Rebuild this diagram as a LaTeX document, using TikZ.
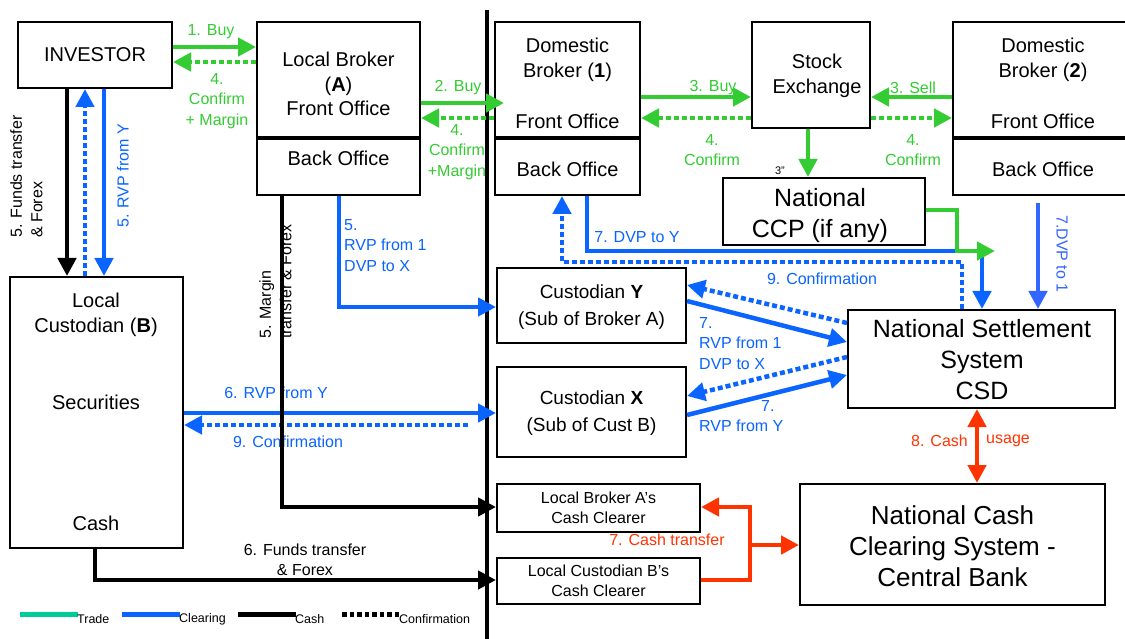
\documentclass[tikz,border=0pt]{standalone}
\usepackage{fontspec}
\setmainfont{Liberation Sans}
\usetikzlibrary{arrows.meta}
\definecolor{tgreen}{HTML}{33CC33}
\definecolor{cblue}{HTML}{0A64FF}
\definecolor{cblueb}{HTML}{3366FF}
\definecolor{cred}{HTML}{FF3300}
\definecolor{tteal}{HTML}{00CC99}
\newcommand\szbox{\fontsize{20}{24.5}\selectfont}
\newcommand\szbig{\fontsize{25}{31}\selectfont}
\newcommand\szmid{\fontsize{19}{27}\selectfont}
\newcommand\szlab{\fontsize{16}{20.5}\selectfont}
\newcommand\szcc{\fontsize{16}{20}\selectfont}
\newcommand\szleg{\fontsize{12.5}{14}\selectfont}
\begin{document}
\begin{tikzpicture}[x=1pt,y=-1pt,
  box/.style={draw, line width=2pt, inner sep=0pt},
  txt/.style={inner sep=0pt, align=center},
  lgreen/.style={inner sep=0pt, align=center, text=tgreen, font=\szlab},
  lblue/.style={inner sep=0pt, align=center, text=cblue, font=\szlab},
  lred/.style={inner sep=0pt, align=center, text=cred, font=\szlab},
  leg/.style={inner sep=0pt, anchor=west, font=\szleg},
  tip/.style={-{Triangle[length=18pt,width=18pt]}},
  both/.style={{Triangle[length=18pt,width=18pt]}-{Triangle[length=18pt,width=18pt]}},
  trade/.style={draw=tgreen, line width=4.5pt, miter limit=10},
  clear/.style={draw=cblue, line width=4.5pt},
  clearb/.style={draw=cblueb, line width=4.5pt},
  cash/.style={draw=black, line width=4.5pt},
  cashr/.style={draw=cred, line width=4.5pt},
  conf/.style={dash pattern=on 5pt off 3pt},
  divider/.style={line width=4pt}]
\useasboundingbox (0,0) rectangle (1125,639);
\fill[white] (0,0) rectangle (1125,639);
\clip (0,0) rectangle (1125,639);

% separator
\draw[line width=3.5pt] (487,10) -- (487,639);

% boxes
\node[box, minimum width=154pt, minimum height=66pt] (inv) at (95,55) {};
\node[box, minimum width=163pt, minimum height=115pt] (lbf) at (338.5,79.5) {};
\node[box, minimum width=163pt, minimum height=58pt] (lbb) at (338.5,166) {};
\node[box, minimum width=145pt, minimum height=115pt] (db1f) at (567.5,79.5) {};
\node[box, minimum width=145pt, minimum height=58pt] (db1b) at (567.5,166) {};
\node[box, minimum width=118pt, minimum height=106pt] (se) at (811,75) {};
\node[box, minimum width=182pt, minimum height=115pt] (db2f) at (1044,79.5) {};
\node[box, minimum width=182pt, minimum height=58pt] (db2b) at (1044,166) {};
\node[box, minimum width=202pt, minimum height=67pt] (ccp) at (824,211.5) {};
\node[box, minimum width=173pt, minimum height=271pt] (cb) at (96.5,412.5) {};
\node[box, minimum width=189pt, minimum height=75pt] (cy) at (591.5,305.5) {};
\node[box, minimum width=189pt, minimum height=90pt] (cx) at (591.5,412) {};
\node[box, minimum width=267pt, minimum height=98pt] (nss) at (981.5,359) {};
\node[box, minimum width=203pt, minimum height=48pt] (lbacc) at (598.5,508) {};
\node[box, minimum width=203pt, minimum height=46pt] (lcbcc) at (598.5,581) {};
\node[box, minimum width=305pt, minimum height=121pt] (nccs) at (952.5,544.5) {};

% office dividers
\draw[divider] (lbf.south west) -- (lbf.south east);
\draw[divider] (db1f.south west) -- (db1f.south east);
\draw[divider] (db2f.south west) -- (db2f.south east);

% box texts
\node[txt, font=\szbox] (tinv) at (95,55) {INVESTOR};
\node[txt, font=\szbox] (tlbf) at (338.5,84) {Local Broker\\(\textbf{A})\\Front Office};
\node[txt, font=\szbox] (tlbb) at (338.5,158) {Back Office};
\node[txt, font=\szbox] (tdb1a) at (567.5,60) {Domestic\\Broker (\textbf{1})};
\node[txt, font=\szbox] (tdb1b) at (567.5,121) {Front Office};
\node[txt, font=\szbox] (tdb1c) at (567.5,169) {Back Office};
\node[txt, font=\szbox] (tse) at (817,76) {Stock\\Exchange};
\node[txt, font=\szbox] (tdb2a) at (1043,60) {Domestic\\Broker (\textbf{2})};
\node[txt, font=\szbox] (tdb2b) at (1043,121) {Front Office};
\node[txt, font=\szbox] (tdb2c) at (1043,169) {Back Office};
\node[txt, font=\szbig, text depth=0pt] (tccp) at (820,213) {National\\CCP (if any)};
\node[txt, font=\fontsize{11}{12}\selectfont] (t3) at (780,171) {3''};
\node[txt, font=\szbox] (tcb1) at (96,315) {Local\\Custodian (\textbf{B})};
\node[txt, font=\szbox] (tcb2) at (96,402) {Securities};
\node[txt, font=\szbox] (tcb3) at (96,523) {Cash};
\node[txt, font=\szmid] (tcy) at (591.5,307) {Custodian \textbf{Y}\\(Sub of Broker A)};
\node[txt, font=\szmid] (tcx) at (591.5,413) {Custodian \textbf{X}\\(Sub of Cust B)};
\node[txt, font=\szbig] (tnss) at (982,360) {National Settlement\\System\\CSD};
\node[txt, font=\szcc] (tlbacc) at (598.5,508) {Local Broker A’s\\Cash Clearer};
\node[txt, font=\szcc] (tlcbcc) at (598.5,581) {Local Custodian B’s\\Cash Clearer};
\node[txt, font=\fontsize{26}{31}\selectfont] (tnccs) at (952.5,546) {National Cash\\Clearing System -\\Central Bank};

% labels
\node[lgreen] (l1) at (211,32) {1. Buy};
\node[lgreen] (l4a) at (217,101) {4.\\Confirm\\+ Margin};
\node[lgreen] (l2) at (458,88) {2. Buy};
\node[lgreen] (l4b) at (457,152) {4.\\Confirm\\+Margin};
\node[lgreen] (l3b) at (713,88) {3. Buy};
\node[lgreen] (l4c) at (712,150) {4.\\Confirm};
\node[lgreen] (l3s) at (913,88) {3. Sell};
\node[lgreen] (l4d) at (913,150) {4.\\Confirm};
\node[inner sep=0pt, align=left, font=\szlab, rotate=90, anchor=north west] (l5f) at (10,238) {5. Funds transfer\\\& Forex};
\node[lblue, rotate=90] (l5r) at (123,176) {5. RVP from Y};
\node[inner sep=0pt, align=left, font=\szlab, rotate=90, anchor=north west] (l5m) at (259,339) {5. Margin\\transfer \& Forex};
\node[lblue, align=left, anchor=north west] (l5x) at (344,219) {5.\\RVP from 1\\DVP to X};
\node[lblue] (l6r) at (276,393) {6. RVP from Y};
\node[lblue] (l9a) at (288,442) {9. Confirmation};
\node[inner sep=0pt, align=center, font=\szlab] (l6f) at (305,560) {6. Funds transfer\\\& Forex};
\node[lblue] (l7y) at (637,237) {7. DVP to Y};
\node[lblue] (l9b) at (822,279) {9. Confirmation};
\node[inner sep=0pt, text=cblueb, font=\szlab, rotate=-90] (l71) at (1062,254) {7.DVP to 1};
\node[lblue, align=left, anchor=north west] (l7a) at (699,317) {7.\\RVP from 1\\DVP to X};
\node[lblue, align=left, anchor=north west] (l7b) at (699,400) {\hspace*{62pt}7.\\RVP from Y};
\node[lred, anchor=east] (l8a) at (968,441) {8. Cash};
\node[lred, anchor=west] (l8b) at (986,441) {usage};
\node[lred] (l7c) at (667,540) {7. Cash transfer};

% trade connectors
\draw[trade,tip] (inv.east |- 0,47) -- (lbf.west |- 0,47);
\draw[trade,conf,tip] (lbf.west |- 0,62) -- (inv.east |- 0,62);
\draw[trade,tip] (lbf.east |- 0,103) -- ([xshift=10pt]db1f.west |- 0,103);
\draw[trade,conf,tip] (db1f.west |- 0,118) -- (lbf.east |- 0,118);
\draw[trade,tip] (db1f.east |- 0,97) -- (se.west |- 0,97);
\draw[trade,conf,tip] (se.west |- 0,118) -- (db1f.east |- 0,118);
\draw[trade,tip] (db2f.west |- 0,97) -- (se.east |- 0,97);
\draw[trade,conf,tip] (se.east |- 0,118) -- (db2f.west |- 0,118);
\draw[trade,tip] (se.south -| 808,0) -- (ccp.north -| 808,0);

% clearing connectors
\draw[clear,tip] (inv.south -| 104,0) -- (cb.north -| 104,0);
\draw[clear,conf,tip] (cb.north -| 85,0) -- (inv.south -| 85,0);
\draw[clear,tip] (lbb.south -| 339,0) -- (339,307) -- (cy.west |- 0,307);
\draw[clear,tip] (cb.east |- 0,413) -- (cx.west |- 0,413);
\coordinate (c9s) at (468,425);
\draw[clear,conf,tip] (c9s) -- (cb.east |- 0,425);
\draw[clear,tip] (db1b.south -| 587,0) -- (587,251) -- (982,251) -- (nss.north -| 982,0);
\draw[clear,conf,tip] (nss.north -| 962,0) -- (962,262) -- (562,262) -- (db1b.south -| 562,0);
\draw[clearb,tip,shorten <=7pt] (db2b.south -| 1038,0) -- (nss.north -| 1038,0);
\draw[clear,tip] (cy.east |- 0,301) -- (nss.west |- 0,342);
\draw[clear,conf,tip] (nss.west |- 0,323) -- (cy.east |- 0,285);
\draw[clear,tip] (cx.east |- 0,415) -- (nss.west |- 0,375);
\draw[clear,conf,tip] (nss.west |- 0,357) -- (cx.east |- 0,396);

% trade from CCP (over the clearing line)
\coordinate (ccpend) at (995,251);
\draw[trade,tip] (ccp.east |- 0,210) -- (957,210) -- (957,251) -- (ccpend);

% cash connectors
\draw[cash,tip] (inv.south -| 67,0) -- (cb.north -| 67,0);
\draw[cash,tip] (lbb.south -| 282,0) -- (282,507) -- (lbacc.west |- 0,507);
\draw[cash,tip] (cb.south -| 95,0) -- (95,580) -- (lcbcc.west |- 0,580);
\draw[cashr,both] (nss.south -| 977,0) -- (nccs.north -| 977,0);
\draw[cashr,tip] (lcbcc.east |- 0,580) -- (750,580) -- (750,507) -- (lbacc.east |- 0,507);
\draw[cashr,tip] (750,545) -- (nccs.west |- 0,545);

% legend
\draw[line width=5pt, tteal] (20,614) -- (78,614);
\node[leg] (lgt) at (77,619) {Trade};
\draw[line width=5pt, cblue] (122,614) -- (180,614);
\node[leg] (lgc) at (179,619) {Clearing};
\draw[line width=5pt] (238,614) -- (296,614);
\node[leg] (lgk) at (295,619) {Cash};
\draw[line width=5pt, dash pattern=on 4.5pt off 3pt] (342,614) -- (400,614);
\node[leg] (lgf) at (399,619) {Confirmation};
\end{tikzpicture}
\end{document}
